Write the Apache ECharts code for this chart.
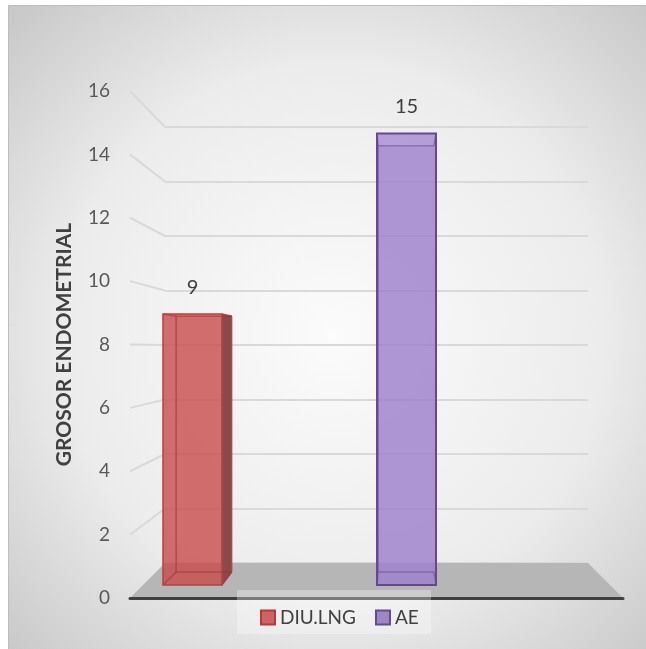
<!DOCTYPE html>
<html>
<head>
<meta charset="utf-8">
<script src="https://cdn.jsdelivr.net/npm/echarts@6/dist/echarts.min.js"></script>
<style>
html,body{margin:0;padding:0;background:#fff;}
#chart{width:646px;height:649px;}
</style>
</head>
<body>
<div id="chart"></div>
<script>
// ---- data ----
const categories = ['DIU.LNG', 'AE'];
const values = [9, 15];
const axisMin = 0;
const axisMax = 16;
const axisInterval = 2;
const axisName = 'GROSOR ENDOMETRIAL';

// ---- styles / layout ----
const FONT = 'Lato, "Open Sans", sans-serif';
const FRONT = {left: 130, right: 646 - 623, top: 91, bottom: 649 - 598};
const BACK = {left: 165, right: 646 - 588, top: 127, bottom: 649 - 563};
const VX = 398, VY = 352, K = 0.944, BAR_W = 59;
const STY = [
  {front: 'rgba(200,75,75,0.80)', side: '#8a4a4a', edge: '#b34242', inner: 'rgba(165,45,45,0.55)', top: 'rgba(255,255,255,0.08)', ew: 1.5},
  {front: 'rgba(158,128,204,0.82)', side: '#6e5a8c', edge: '#654891', inner: 'rgba(105,75,155,0.55)', top: 'rgba(255,255,255,0.10)', ew: 2}
];
const LEG = [
  {color: '#cd6363', borderColor: '#b03c3c'},
  {color: '#9f86c4', borderColor: '#664a93'}
];

function renderBar(params, api) {
  const c = api.coord([api.value(0), api.value(1)]);
  const b = api.coord([api.value(0), 0]);
  const hw = BAR_W / 2;
  const x0 = c[0] - hw, x1 = c[0] + hw, yt = c[1], yb = b[1];
  const P = (x, y) => [VX + (x - VX) * K, VY + (y - VY) * K];
  const bTL = P(x0, yt), bTR = P(x1, yt), bBL = P(x0, yb), bBR = P(x1, yb);
  const s = STY[params.seriesIndex];
  const kids = [];
  if (bTR[0] > x1) {
    kids.push({type: 'polygon', shape: {points: [[x1, yt], bTR, bBR, [x1, yb]]},
      style: {fill: s.side, stroke: s.edge, lineWidth: 1}});
  }
  kids.push({type: 'rect', shape: {x: x0, y: yt, width: BAR_W, height: yb - yt},
    style: {fill: s.front, stroke: null}});
  kids.push({type: 'polygon', shape: {points: [[x0, yt], [x1, yt], bTR, bTL]},
    style: {fill: s.top, stroke: null}});
  kids.push({type: 'polyline', shape: {points: [bTR, bTL, bBL, bBR]},
    style: {fill: null, stroke: s.inner, lineWidth: 1.5}});
  kids.push({type: 'line', shape: {x1: x0, y1: yb, x2: bBL[0], y2: bBL[1]},
    style: {stroke: s.inner, lineWidth: 1.5}});
  kids.push({type: 'line', shape: {x1: x0, y1: yt, x2: bTL[0], y2: bTL[1]},
    style: {stroke: s.inner, lineWidth: 1.5}});
  kids.push({type: 'line', shape: {x1: x1, y1: yb, x2: bBR[0], y2: bBR[1]},
    style: {stroke: s.inner, lineWidth: 1.5}});
  kids.push({type: 'line', shape: {x1: x1, y1: yt, x2: bTR[0], y2: bTR[1]},
    style: {stroke: s.inner, lineWidth: 1.5}});
  kids.push({type: 'rect', shape: {x: x0, y: yt, width: BAR_W, height: yb - yt},
    style: {fill: null, stroke: s.edge, lineWidth: s.ew}});
  kids.push({type: 'text', x: c[0], y: yt - 27,
    style: {text: String(api.value(1)), fill: '#404040', font: '20px ' + FONT,
      textAlign: 'center', textVerticalAlign: 'middle'}});
  return {type: 'group', children: kids};
}

const chart = echarts.init(document.getElementById('chart'), null, {renderer: 'canvas'});

const series = categories.map((name, i) => ({
  type: 'custom',
  name: name,
  xAxisIndex: 2,
  yAxisIndex: 2,
  z: 5,
  renderItem: renderBar,
  itemStyle: {color: LEG[i].color, borderColor: LEG[i].borderColor, borderWidth: 1.5},
  encode: {x: 0, y: 1},
  data: [[i, values[i]]]
}));

chart.setOption({
  backgroundColor: '#ffffff',
  animation: false,
  grid: [
    {left: BACK.left, right: BACK.right, top: BACK.top, bottom: BACK.bottom},
    {left: FRONT.left, right: FRONT.right, top: FRONT.top, bottom: FRONT.bottom},
    {left: 85.5, right: 646 - 513.5, top: 585 - 16 * 30.1, bottom: 649 - 585}
  ],
  xAxis: [
    {gridIndex: 0, type: 'category', data: [''], show: false},
    {gridIndex: 1, type: 'category', data: [''], z: 3,
      axisLine: {show: true, lineStyle: {color: '#404040', width: 3}},
      axisTick: {show: false}, axisLabel: {show: false}, splitLine: {show: false}},
    {gridIndex: 2, type: 'category', data: categories, show: false}
  ],
  yAxis: [
    {gridIndex: 0, type: 'value', min: axisMin, max: axisMax, interval: axisInterval,
      axisLine: {show: false}, axisTick: {show: false}, axisLabel: {show: false},
      splitLine: {show: true, lineStyle: {color: '#d9d9d9', width: 2}}},
    {gridIndex: 1, type: 'value', min: axisMin, max: axisMax, interval: axisInterval,
      axisLine: {show: false}, axisTick: {show: false}, splitLine: {show: false},
      axisLabel: {color: '#595959', fontSize: 19, fontFamily: FONT, margin: 20},
      name: axisName, nameLocation: 'middle', nameRotate: 90, nameGap: 55,
      nameTextStyle: {color: '#404040', fontSize: 21, fontWeight: 'bold', fontFamily: FONT}},
    {gridIndex: 2, type: 'value', min: axisMin, max: axisMax, show: false,
      splitLine: {show: false}}
  ],
  legend: {
    data: categories,
    left: 255, top: 603,
    icon: 'rect', itemWidth: 14, itemHeight: 14, itemGap: 19,
    textStyle: {color: '#404040', fontSize: 19, fontFamily: FONT},
    z: 12
  },
  series: series
});

// decorations computed through the axes
const yFront = v => chart.convertToPixel({yAxisIndex: 1}, v);
const yBack = v => chart.convertToPixel({yAxisIndex: 0}, v);
const graphics = [
  {type: 'rect', z: -10, silent: true,
    shape: {x: 8.5, y: 5.5, width: 650, height: 660},
    style: {fill: {type: 'radial', x: 0.5, y: 0.5, r: 0.75,
      colorStops: [{offset: 0, color: '#fbfbfb'}, {offset: 0.55, color: '#ececec'}, {offset: 1, color: '#c2c2c2'}]},
      stroke: '#bdbdbd', lineWidth: 1}},
  {type: 'rect', z: 10, silent: true,
    shape: {x: 237, y: 590, width: 194, height: 44},
    style: {fill: 'rgba(255,255,255,0.3)'}}
];
for (let v = axisMin + axisInterval; v <= axisMax; v += axisInterval) {
  graphics.push({type: 'line', z: 1, silent: true,
    shape: {x1: FRONT.left, y1: yFront(v), x2: BACK.left, y2: yBack(v)},
    style: {stroke: '#d9d9d9', lineWidth: 2}});
}
graphics.push({type: 'polygon', z: 1, silent: true,
  shape: {points: [[FRONT.left, yFront(axisMin)], [646 - FRONT.right, yFront(axisMin)],
    [646 - BACK.right, yBack(axisMin)], [BACK.left, yBack(axisMin)]]},
  style: {fill: '#b6b6b6'}});
chart.setOption({graphic: graphics});
</script>
</body>
</html>
